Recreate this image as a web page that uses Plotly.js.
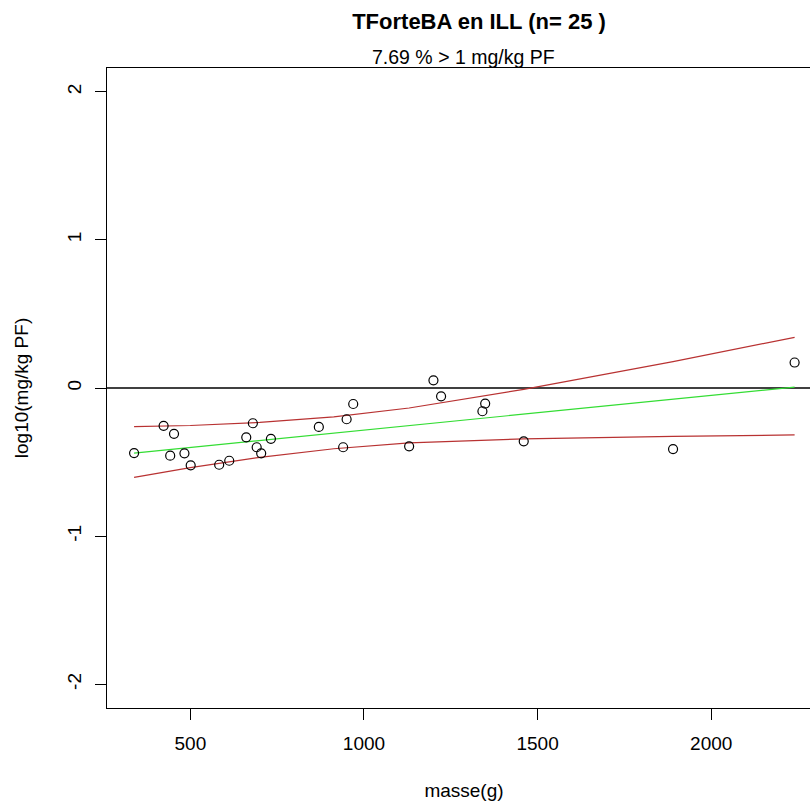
<!DOCTYPE html>
<html>
<head>
<meta charset="utf-8">
<script src="https://cdn.plot.ly/plotly-3.0.1.min.js"></script>
<style>
html, body { margin: 0; padding: 0; overflow: hidden; background: #fff; }
#chart { width: 832px; height: 812px; }
</style>
</head>
<body>
<div id="chart"></div>
<script>
// Observed points: mass (g) and log10(mg/kg PF)
const masse = [338, 423, 453, 442, 483, 501, 583, 612, 680, 661, 732, 691, 704,
               969, 950, 870, 940, 1200, 1222, 1349, 1341, 1130, 1460, 1890, 2240];
const logConc = [-0.439, -0.255, -0.309, -0.457, -0.441, -0.522, -0.518, -0.491, -0.238, -0.333, -0.343, -0.400, -0.441,
                 -0.108, -0.211, -0.263, -0.400, 0.052, -0.056, -0.105, -0.157, -0.394, -0.360, -0.412, 0.172];

// Fitted line and band
const fitX = [338, 913, 1460, 2240];
const fitY = [-0.439, -0.304, -0.176, 0.006];
const bandX = [338, 500, 700, 913, 1130, 1350, 1460, 1890, 2240];
const bandUpper = [-0.261, -0.253, -0.232, -0.195, -0.135, -0.054, -0.009, 0.178, 0.342];
const bandLower = [-0.603, -0.538, -0.468, -0.410, -0.370, -0.350, -0.343, -0.327, -0.317];

const xTicks = [500, 1000, 1500, 2000];
const yTicks = [-2, -1, 0, 1, 2];

const titleText = 'TForteBA en ILL (n= 25 )';
const subtitleText = '7.69 % > 1 mg/kg PF';

const FONT = 'Liberation Sans, Arial, sans-serif';
const redCol = '#b83232';
const greenCol = '#33dd33';

const traces = [
  { x: bandX, y: bandUpper, type: 'scatter', mode: 'lines', line: { color: redCol, width: 1.2 }, hoverinfo: 'skip' },
  { x: bandX, y: bandLower, type: 'scatter', mode: 'lines', line: { color: redCol, width: 1.2 }, hoverinfo: 'skip' },
  { x: fitX, y: fitY, type: 'scatter', mode: 'lines', line: { color: greenCol, width: 1.2 }, hoverinfo: 'skip' },
  { x: masse, y: logConc, type: 'scatter', mode: 'markers',
    marker: { symbol: 'circle-open', size: 9, color: '#000', line: { color: '#000', width: 1.2 } } }
];

const W = 832, H = 812;
const layout = {
  width: W, height: H,
  margin: { l: 107, r: 11, t: 68, b: 104 },
  paper_bgcolor: '#fff', plot_bgcolor: '#fff',
  showlegend: false,
  font: { family: FONT, color: '#000' },
  title: {
    text: '<b>' + titleText + '</b>',
    font: { family: FONT, size: 22, color: '#000' },
    xref: 'container', x: 479 / W, xanchor: 'center',
    yref: 'container', y: 1 - 21 / H, yanchor: 'middle'
  },
  xaxis: {
    range: [260, 2316], tickvals: xTicks, ticktext: xTicks.map(String),
    ticks: 'outside', ticklen: 11, tickwidth: 1, tickcolor: '#000',
    showline: true, mirror: true, linecolor: '#000', linewidth: 1,
    showgrid: false, zeroline: false,
    tickfont: { family: FONT, size: 19, color: '#000' },
    ticklabelstandoff: 7,
    title: { text: 'masse(g)', font: { family: FONT, size: 19, color: '#000' }, standoff: 30 }
  },
  yaxis: {
    range: [-2.16, 2.16], tickvals: yTicks, ticktext: yTicks.map(String),
    ticks: 'outside', ticklen: 11, tickwidth: 1, tickcolor: '#000',
    showline: true, mirror: true, linecolor: '#000', linewidth: 1,
    showgrid: false, zeroline: false, tickangle: -90,
    tickfont: { family: FONT, size: 19, color: '#000' },
    ticklabelstandoff: 6,
    title: { text: 'log10(mg/kg PF)', font: { family: FONT, size: 19, color: '#000' }, standoff: 30 }
  },
  shapes: [
    { type: 'line', xref: 'paper', x0: 0, x1: 1, yref: 'y', y0: 0, y1: 0, line: { color: '#000', width: 1.4 }, layer: 'below' }
  ],
  annotations: [
    { text: subtitleText, xref: 'paper', yref: 'paper', x: (463 - 107) / 714, y: 1 + (68 - 57) / 640,
      xanchor: 'center', yanchor: 'middle', showarrow: false, font: { family: FONT, size: 19.5, color: '#000' } }
  ]
};

Plotly.newPlot('chart', traces, layout, { displayModeBar: false, staticPlot: true });
</script>
</body>
</html>
